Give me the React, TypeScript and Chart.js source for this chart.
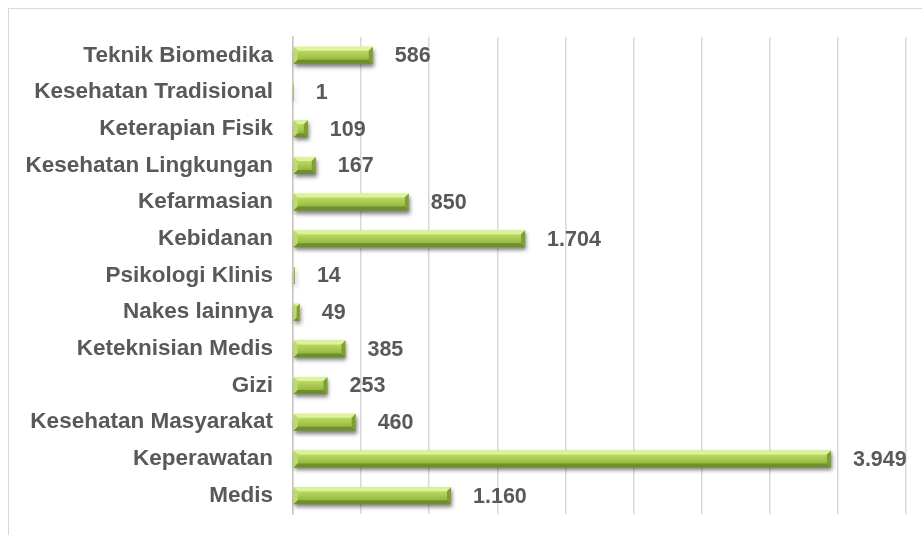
import React, { useEffect, useRef } from "react";
import { Chart, registerables } from "chart.js";

Chart.register(...registerables);

const categories: string[] = [
  "Teknik Biomedika",
  "Kesehatan Tradisional",
  "Keterapian Fisik",
  "Kesehatan Lingkungan",
  "Kefarmasian",
  "Kebidanan",
  "Psikologi Klinis",
  "Nakes lainnya",
  "Keteknisian Medis",
  "Gizi",
  "Kesehatan Masyarakat",
  "Keperawatan",
  "Medis",
];

const values: number[] = [586, 1, 109, 167, 850, 1704, 14, 49, 385, 253, 460, 3949, 1160];

const axisMax = 4500;
const axisStep = 500;

const FONT = '"Liberation Sans", Arial, sans-serif';
const TEXT_COLOR = "#595959";

function fmt(n: number): string {
  return String(n).replace(/\B(?=(\d{3})+(?!\d))/g, ".");
}

const bevelBarPlugin = {
  id: "bevelBars",
  afterDatasetsDraw(chart: any) {
    const ctx: CanvasRenderingContext2D = chart.ctx;
    const meta = chart.getDatasetMeta(0);
    meta.data.forEach((el: any, i: number) => {
      const p = el.getProps(["x", "y", "base", "height"], true);
      const x0 = Math.min(p.x, p.base);
      const x1 = Math.max(p.x, p.base);
      const y0 = p.y - p.height / 2;
      const y1 = p.y + p.height / 2;
      const w = x1 - x0;
      const h = y1 - y0;
      if (w > 0.3) {
        ctx.save();
        ctx.shadowColor = "rgba(0,0,0,0.5)";
        ctx.shadowBlur = 4;
        ctx.shadowOffsetX = 1;
        ctx.shadowOffsetY = 3;
        const g = ctx.createLinearGradient(0, y0, 0, y1);
        g.addColorStop(0, "#c9e675");
        g.addColorStop(0.5, "#a8ca4f");
        g.addColorStop(1, "#86a83a");
        ctx.fillStyle = g;
        ctx.fillRect(x0, y0, w, h);
        ctx.restore();

        const b = Math.min(4, w / 2, h / 2);
        ctx.save();
        ctx.fillStyle = "#ddf29c";
        ctx.beginPath();
        ctx.moveTo(x0, y0);
        ctx.lineTo(x1, y0);
        ctx.lineTo(x1 - b, y0 + b);
        ctx.lineTo(x0 + b, y0 + b);
        ctx.closePath();
        ctx.fill();
        ctx.fillStyle = "#bcdb68";
        ctx.beginPath();
        ctx.moveTo(x0, y0);
        ctx.lineTo(x0 + b, y0 + b);
        ctx.lineTo(x0 + b, y1 - b);
        ctx.lineTo(x0, y1);
        ctx.closePath();
        ctx.fill();
        ctx.fillStyle = "#6f8f2b";
        ctx.beginPath();
        ctx.moveTo(x0, y1);
        ctx.lineTo(x1, y1);
        ctx.lineTo(x1 - b, y1 - b);
        ctx.lineTo(x0 + b, y1 - b);
        ctx.closePath();
        ctx.fill();
        ctx.fillStyle = "#7f9f33";
        ctx.beginPath();
        ctx.moveTo(x1, y0);
        ctx.lineTo(x1, y1);
        ctx.lineTo(x1 - b, y1 - b);
        ctx.lineTo(x1 - b, y0 + b);
        ctx.closePath();
        ctx.fill();
        ctx.restore();
      }
      ctx.save();
      ctx.font = `bold 21.5px ${FONT}`;
      ctx.fillStyle = TEXT_COLOR;
      ctx.textAlign = "left";
      ctx.textBaseline = "middle";
      ctx.fillText(fmt(values[i]), x1 + 22, p.y + 1);
      ctx.restore();
    });
  },
};

export default function App() {
  const canvasRef = useRef<HTMLCanvasElement | null>(null);

  useEffect(() => {
    document.documentElement.style.overflow = "hidden";
    document.body.style.overflow = "hidden";
    const canvas = canvasRef.current;
    if (!canvas) return;
    const chart = new Chart(canvas, {
      type: "bar",
      data: {
        labels: categories,
        datasets: [
          {
            data: values,
            backgroundColor: "rgba(0,0,0,0)",
            borderWidth: 0,
            barThickness: 17,
          },
        ],
      },
      options: {
        indexAxis: "y",
        animation: false,
        responsive: false,
        devicePixelRatio: 1,
        layout: { padding: { left: 0, top: 37, right: 16, bottom: 21 } },
        plugins: {
          legend: { display: false },
          tooltip: { enabled: false },
          title: { display: false },
        },
        scales: {
          x: {
            min: 0,
            max: axisMax,
            ticks: { display: false, stepSize: axisStep },
            grid: { color: "#d9d9d9", lineWidth: 1.5, drawTicks: false },
            border: { display: false },
            afterFit: (scale: any) => {
              scale.height = 0;
              scale.paddingLeft = 0;
              scale.paddingRight = 0;
            },
          },
          y: {
            grid: { display: false, drawTicks: false },
            border: { display: true, color: "#c8c8c8", width: 1.5 },
            ticks: {
              padding: 20,
              color: TEXT_COLOR,
              font: { family: FONT, size: 22.5, weight: "bold" },
              autoSkip: false,
            },
            afterFit: (scale: any) => {
              scale.width = 293;
              scale.paddingTop = 0;
              scale.paddingBottom = 0;
            },
          },
        },
      },
      plugins: [bevelBarPlugin],
    } as any);
    return () => chart.destroy();
  }, []);

  return (
    <div
      style={{
        position: "fixed",
        left: 0,
        top: 0,
        width: 922,
        height: 535,
        overflow: "hidden",
        background: "#ffffff",
      }}
    >
      <div
        style={{
          position: "absolute",
          left: 8,
          top: 8,
          width: 1000,
          height: 1000,
          border: "1px solid #d9d9d9",
          boxSizing: "border-box",
        }}
      />
      <canvas
        ref={canvasRef}
        width={922}
        height={535}
        style={{ position: "absolute", left: 0, top: 0, width: 922, height: 535 }}
      />
    </div>
  );
}
